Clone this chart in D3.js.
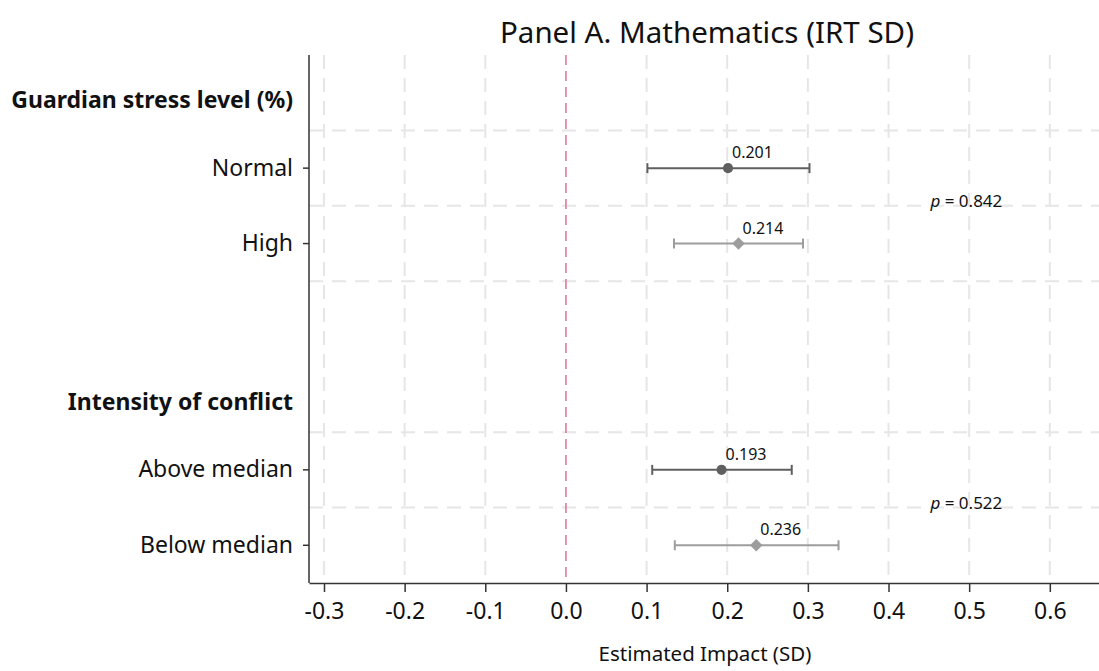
<!DOCTYPE html>
<html>
<head>
<meta charset="utf-8">
<script src="https://cdn.jsdelivr.net/npm/d3@7"></script>
<style>
  html, body { margin: 0; padding: 0; background: #fff; }
  svg { display: block; font-family: "Noto Sans", "Open Sans", sans-serif; }
</style>
</head>
<body>
<svg id="chart" width="1099" height="671"></svg>
<script>
// Row layout (top to bottom): group headers, subgroup rows, spacer
const rows = ["hdr1", "Normal", "High", "gap", "hdr2", "Above median", "Below median"];
const groupHeaders = [
  { row: "hdr1", label: "Guardian stress level (%)" },
  { row: "hdr2", label: "Intensity of conflict" }
];
const subgroups = ["Normal", "High", "Above median", "Below median"];
const estimates = [0.201, 0.214, 0.193, 0.236];
const ciLow = [0.101, 0.134, 0.107, 0.135];
const ciHigh = [0.302, 0.294, 0.280, 0.338];
const markerType = ["circle", "diamond", "circle", "diamond"];
const pValues = [
  { between: ["Normal", "High"], text: "0.842" },
  { between: ["Above median", "Below median"], text: "0.522" }
];
const xTicks = [-0.3, -0.2, -0.1, 0.0, 0.1, 0.2, 0.3, 0.4, 0.5, 0.6];
const gridRows = ["Normal", "High", "gap", "Above median", "Below median"];

const svg = d3.select("#chart");
const W = 1099, H = 671;
const m = { top: 55, right: 0, bottom: 88, left: 309 };

const x = d3.scaleLinear()
  .domain([-0.3186, 0.661])
  .range([m.left, W - m.right]);

const y = d3.scaleBand()
  .domain(rows)
  .range([m.top, H - m.bottom])
  .paddingInner(0).paddingOuter(0);

const colDark = "#5f5f5f", colLight = "#9d9d9d";
const colorFor = (i) => markerType[i] === "circle" ? colDark : colLight;

// Dashed grid
const grid = svg.append("g");
grid.selectAll("line.v")
  .data(xTicks.filter(t => t !== 0))
  .join("line")
  .attr("x1", d => x(d)).attr("x2", d => x(d))
  .attr("y1", m.top).attr("y2", H - m.bottom)
  .attr("stroke", "#e6e6e6").attr("stroke-width", 2)
  .attr("stroke-dasharray", "14,9");
grid.selectAll("line.h")
  .data(gridRows)
  .join("line")
  .attr("x1", m.left).attr("x2", W - m.right)
  .attr("y1", d => y(d)).attr("y2", d => y(d))
  .attr("stroke", "#e6e6e6").attr("stroke-width", 2)
  .attr("stroke-dasharray", "14,9");

// Reference line at zero
svg.append("line")
  .attr("x1", x(0)).attr("x2", x(0))
  .attr("y1", m.top).attr("y2", H - m.bottom)
  .attr("stroke", "#e0799a").attr("stroke-width", 1.6)
  .attr("stroke-dasharray", "10,6");

// X axis
const xAxis = svg.append("g")
  .attr("transform", `translate(0,${H - m.bottom})`)
  .call(d3.axisBottom(x).tickValues(xTicks).tickSize(9).tickSizeOuter(0).tickPadding(11));
xAxis.select(".domain").attr("stroke", "#333").attr("stroke-width", 1.5);
xAxis.selectAll(".tick line").attr("stroke", "#333").attr("stroke-width", 1.5);
xAxis.selectAll(".tick text").attr("font-size", 23).attr("fill", "#111")
  .attr("font-family", "'Noto Sans', sans-serif")
  .text(d => d3.format(".1f")(d).replace("−", "-"));

// Y axis
const yAxis = svg.append("g")
  .attr("transform", `translate(${m.left},0)`)
  .call(d3.axisLeft(y).tickValues(subgroups).tickSize(6).tickSizeOuter(0).tickPadding(10));
yAxis.select(".domain").attr("stroke", "#333").attr("stroke-width", 1.5)
  .attr("d", `M0,${m.top}V${H - m.bottom}`);
yAxis.selectAll(".tick line").attr("stroke", "#333").attr("stroke-width", 1.5);
yAxis.selectAll(".tick text").attr("font-size", 23).attr("fill", "#111")
  .attr("font-family", "'Noto Sans', sans-serif");

// Group headers
svg.selectAll("text.hdr")
  .data(groupHeaders)
  .join("text")
  .attr("x", m.left - 16)
  .attr("y", d => y(d.row) + y.bandwidth() * 0.62)
  .attr("text-anchor", "end")
  .attr("dominant-baseline", "middle")
  .attr("font-size", 23).attr("font-weight", "bold").attr("fill", "#111")
  .text(d => d.label);

// Confidence intervals
const est = subgroups.map((s, i) => ({ s, i, b: estimates[i], lo: ciLow[i], hi: ciHigh[i] }));
const cy = d => y(d.s) + y.bandwidth() / 2;
const ci = svg.append("g");
ci.selectAll("line.bar").data(est).join("line")
  .attr("x1", d => x(d.lo)).attr("x2", d => x(d.hi))
  .attr("y1", cy).attr("y2", cy)
  .attr("stroke", d => colorFor(d.i)).attr("stroke-width", 2);
ci.selectAll("line.capl").data(est).join("line")
  .attr("x1", d => x(d.lo)).attr("x2", d => x(d.lo))
  .attr("y1", d => cy(d) - 5).attr("y2", d => cy(d) + 5)
  .attr("stroke", d => colorFor(d.i)).attr("stroke-width", 2);
ci.selectAll("line.caph").data(est).join("line")
  .attr("x1", d => x(d.hi)).attr("x2", d => x(d.hi))
  .attr("y1", d => cy(d) - 5).attr("y2", d => cy(d) + 5)
  .attr("stroke", d => colorFor(d.i)).attr("stroke-width", 2);

// Point estimates
svg.selectAll("path.pt").data(est).join("path")
  .attr("transform", d => `translate(${x(d.b)},${cy(d)})`)
  .attr("d", d => d3.symbol(markerType[d.i] === "circle" ? d3.symbolCircle : d3.symbolDiamond2,
                             markerType[d.i] === "circle" ? 80 : 100)())
  .attr("fill", d => colorFor(d.i));

// Value labels
svg.selectAll("text.val").data(est).join("text")
  .attr("x", d => x(d.b) + 4)
  .attr("y", d => cy(d) - 10)
  .attr("font-size", 16).attr("fill", "#111")
  .text(d => d3.format(".3f")(d.b));

// Difference p-values, placed on the boundary between the two compared rows
const pg = svg.selectAll("text.p").data(pValues).join("text")
  .attr("x", x(0.452))
  .attr("y", d => y(d.between[1]) - 4)
  .attr("dominant-baseline", "middle")
  .attr("font-size", 17).attr("fill", "#111");
pg.append("tspan").attr("font-style", "italic").text("p");
pg.append("tspan").text(d => " = " + d.text);

// Title and axis title
svg.append("text")
  .attr("x", 707).attr("y", 35)
  .attr("text-anchor", "middle").attr("dominant-baseline", "middle")
  .attr("font-size", 29.5).attr("fill", "#111")
  .text("Panel A. Mathematics (IRT SD)");
svg.append("text")
  .attr("x", 705).attr("y", 655)
  .attr("text-anchor", "middle").attr("dominant-baseline", "middle")
  .attr("font-size", 20.5).attr("fill", "#111")
  .text("Estimated Impact (SD)");
</script>
</body>
</html>
